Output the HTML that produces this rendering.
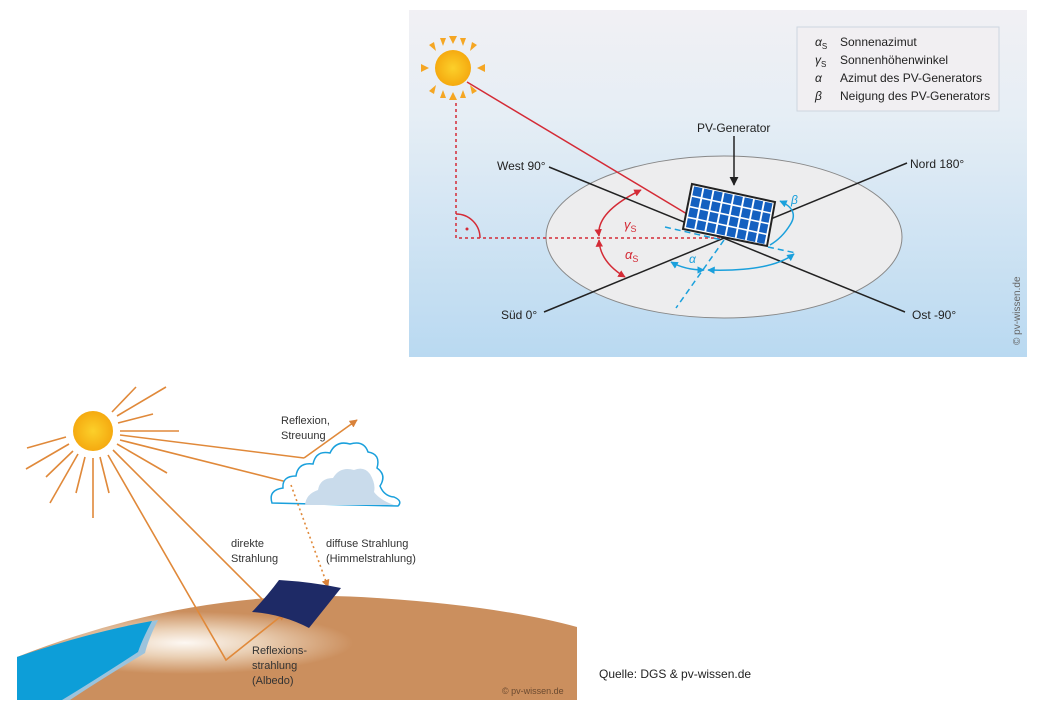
<!DOCTYPE html>
<html><head><meta charset="utf-8"><style>
html,body{margin:0;padding:0;background:#fff;width:1040px;height:720px;overflow:hidden}
svg{display:block;font-family:"Liberation Sans",sans-serif}
</style></head><body>
<svg width="1040" height="720" viewBox="0 0 1040 720" xmlns="http://www.w3.org/2000/svg">
<defs>
<linearGradient id="sky" x1="0" y1="0" x2="0" y2="1">
<stop offset="0" stop-color="#f1f0f4"/><stop offset="0.3" stop-color="#e6eef5"/><stop offset="1" stop-color="#b9d9f1"/>
</linearGradient>
<radialGradient id="sun" cx="0.5" cy="0.5" r="0.5"><stop offset="0" stop-color="#fcd02a"/><stop offset="1" stop-color="#f5aa10"/></radialGradient>
<radialGradient id="gnd" cx="0.3" cy="0.45" r="0.3"><stop offset="0" stop-color="#fdf8f3"/><stop offset="0.45" stop-color="#ead0b5"/><stop offset="1" stop-color="#cb8f5e"/></radialGradient>
<marker id="ar" viewBox="0 0 10 10" refX="9" refY="5" markerWidth="5" markerHeight="5" orient="auto"><path d="M0,0L10,5L0,10z" fill="#d9823a"/></marker>
<marker id="rr" viewBox="0 0 10 10" refX="9" refY="5" markerWidth="5" markerHeight="5" orient="auto-start-reverse"><path d="M0,0L10,5L0,10z" fill="#d42b36"/></marker>
<marker id="br" viewBox="0 0 10 10" refX="9" refY="5" markerWidth="5" markerHeight="5" orient="auto-start-reverse"><path d="M0,0L10,5L0,10z" fill="#1aa0dc"/></marker>
<marker id="kr" viewBox="0 0 10 10" refX="9" refY="5" markerWidth="6" markerHeight="6" orient="auto"><path d="M0,0L10,5L0,10z" fill="#222"/></marker>
</defs>

<!-- TOP PANEL -->
<rect x="409" y="10" width="618" height="347" fill="url(#sky)"/>
<ellipse cx="724" cy="237" rx="178" ry="81" fill="#ededee" stroke="#888" stroke-width="1"/>
<g fill="#f5a623">
<polygon points="453,44 449,36 457,36"/><polygon points="453,92 449,100 457,100"/>
<polygon points="429,68 421,64 421,72"/><polygon points="477,68 485,64 485,72"/>
<polygon points="436,51 429,45 434,42" /><polygon points="470,51 477,45 472,42"/>
<polygon points="436,85 429,91 434,94"/><polygon points="470,85 477,91 472,94"/>
<polygon points="443,46 440,38 446,38"/><polygon points="463,46 466,38 460,38"/>
<polygon points="443,90 440,98 446,98"/><polygon points="463,90 466,98 460,98"/>
</g>
<circle cx="453" cy="68" r="18" fill="url(#sun)"/>
<line x1="467" y1="82" x2="687" y2="214" stroke="#d42b36" stroke-width="1.5"/>
<path d="M456,103 V238 H722" fill="none" stroke="#d42b36" stroke-width="1.5" stroke-dasharray="3,3"/>
<path d="M456,214 A24,24 0 0 1 480,238" fill="none" stroke="#d42b36" stroke-width="1.5"/>
<circle cx="467" cy="229" r="1.5" fill="#d42b36"/>
<path d="M641,190 Q596,212 599,236" fill="none" stroke="#d42b36" stroke-width="1.5" marker-start="url(#rr)" marker-end="url(#rr)"/>
<path d="M599,240 Q600,262 625,277" fill="none" stroke="#d42b36" stroke-width="1.5" marker-start="url(#rr)" marker-end="url(#rr)"/>
<text x="624" y="229" font-size="13" fill="#d42b36" font-style="italic">γ<tspan font-size="9" dy="3" font-style="normal">S</tspan></text>
<text x="625" y="259" font-size="13" fill="#d42b36" font-style="italic">α<tspan font-size="9" dy="3" font-style="normal">S</tspan></text>
<line x1="549" y1="167" x2="905" y2="312" stroke="#222" stroke-width="1.5"/>
<line x1="907" y1="163" x2="544" y2="312" stroke="#222" stroke-width="1.5"/>
<g stroke="#1aa0dc" stroke-width="1.5" fill="none">
<line x1="665" y1="227" x2="722" y2="240" stroke-dasharray="6,4"/>
<line x1="724" y1="240" x2="676" y2="308" stroke-dasharray="6,4"/>
<line x1="768" y1="247" x2="796" y2="253" stroke-dasharray="6,4"/>
<path d="M671,262 Q685,270 704,270" marker-start="url(#br)" marker-end="url(#br)"/>
<path d="M708,270 Q770,272 794,254" marker-start="url(#br)" marker-end="url(#br)"/>
<path d="M780,201 Q800,210 790,225 Q782,238 770,245" marker-start="url(#br)"/>
</g>
<text x="689" y="263" font-size="12" fill="#1aa0dc" font-style="italic">α</text>
<text x="791" y="204" font-size="12" fill="#1aa0dc" font-style="italic">β</text>
<polygon points="692,184 775,202 767,246 683,229" fill="#fff" stroke="#222" stroke-width="2"/>
<g transform="matrix(83,18,-9,45,692,184)" fill="#1460c0">
<g id="row">
<rect x="0.03" y="0.04" width="0.1" height="0.2"/><rect x="0.152" y="0.04" width="0.1" height="0.2"/><rect x="0.274" y="0.04" width="0.1" height="0.2"/><rect x="0.396" y="0.04" width="0.1" height="0.2"/><rect x="0.518" y="0.04" width="0.1" height="0.2"/><rect x="0.64" y="0.04" width="0.1" height="0.2"/><rect x="0.762" y="0.04" width="0.1" height="0.2"/><rect x="0.884" y="0.04" width="0.09" height="0.2"/>
</g>
<use href="#row" y="0.235"/><use href="#row" y="0.47"/><use href="#row" y="0.705"/>
</g>
<line x1="734" y1="136" x2="734" y2="185" stroke="#222" stroke-width="1.5" marker-end="url(#kr)"/>
<g font-size="12" fill="#222">
<text x="697" y="132">PV-Generator</text>
<text x="497" y="170">West 90°</text>
<text x="910" y="168">Nord 180°</text>
<text x="501" y="319">Süd 0°</text>
<text x="912" y="319">Ost -90°</text>
</g>
<rect x="797" y="27" width="202" height="84" fill="#f1eff2" stroke="#cdd6e0"/>
<g font-size="12" fill="#222">
<text x="815" y="46" font-style="italic">α<tspan font-size="8" dy="3" font-style="normal">S</tspan></text><text x="840" y="46">Sonnenazimut</text>
<text x="815" y="64" font-style="italic">γ<tspan font-size="8" dy="3" font-style="normal">S</tspan></text><text x="840" y="64">Sonnenhöhenwinkel</text>
<text x="815" y="82" font-style="italic">α</text><text x="840" y="82">Azimut des PV-Generators</text>
<text x="815" y="100" font-style="italic">β</text><text x="840" y="100">Neigung des PV-Generators</text>
</g>
<text transform="translate(1020,345) rotate(-90)" font-size="10" fill="#666">© pv-wissen.de</text>

<!-- BOTTOM PANEL -->
<path d="M17,657 Q200,585 377,598 Q500,606 577,627 V700 H17 Z" fill="url(#gnd)"/>
<path d="M17,657 Q90,632 158,620 Q148,640 145,653 Q100,680 70,700 H17 Z" fill="#9cc3dc"/>
<path d="M17,657 Q90,632 152,621 Q142,640 138,652 Q95,680 62,700 H17 Z" fill="#0d9ed8"/>
<g stroke="#e0893a" stroke-width="1.6" fill="none">
<line x1="112" y1="412" x2="136" y2="387"/><line x1="117" y1="416" x2="166" y2="387"/>
<line x1="118" y1="423" x2="153" y2="414"/><line x1="120" y1="431" x2="179" y2="431"/>
<line x1="117" y1="444" x2="167" y2="473"/><line x1="100" y1="457" x2="109" y2="493"/>
<line x1="93" y1="458" x2="93" y2="518"/><line x1="85" y1="457" x2="76" y2="493"/>
<line x1="78" y1="454" x2="50" y2="503"/><line x1="73" y1="451" x2="46" y2="477"/>
<line x1="69" y1="444" x2="26" y2="469"/><line x1="66" y1="437" x2="27" y2="448"/>
<line x1="120" y1="435" x2="304" y2="458"/><line x1="120" y1="440" x2="291" y2="483"/>
<line x1="113" y1="450" x2="268" y2="605" marker-end="url(#ar)"/>
<polyline points="108,455 226,660 285,613" marker-end="url(#ar)"/>
<line x1="304" y1="458" x2="357" y2="420" marker-end="url(#ar)"/>
</g>
<circle cx="93" cy="431" r="20" fill="url(#sun)"/>
<!-- cloud -->
<path d="M272,503 Q268,490 283,488 Q282,476 296,476 Q298,462 313,464 Q316,450 330,453 Q336,440 350,444 Q364,440 368,452 Q381,454 377,468 Q387,475 380,486 Q384,496 394,497 Q403,501 398,506 Z" fill="#fff" stroke="#1aa0dc" stroke-width="1.5"/>
<path d="M305,505 Q306,494 318,490 Q320,478 333,478 Q340,466 354,470 Q364,466 370,474 Q376,484 374,492 Q380,500 394,505 Z" fill="#c9dbeb"/>
<line x1="291" y1="485" x2="328" y2="587" stroke="#e0893a" stroke-width="1.6" stroke-dasharray="2,3" marker-end="url(#ar)"/>
<path d="M252,612 Q268,595 279,580 Q312,582 341,588 Q325,608 309,628 Q282,614 252,612 Z" fill="#1e2a66"/>
<g font-size="11" fill="#333">
<text x="281" y="424">Reflexion,</text><text x="281" y="439">Streuung</text>
<text x="231" y="547">direkte</text><text x="231" y="562">Strahlung</text>
<text x="326" y="547">diffuse Strahlung</text><text x="326" y="562">(Himmelstrahlung)</text>
<text x="252" y="654">Reflexions-</text><text x="252" y="669">strahlung</text><text x="252" y="684">(Albedo)</text>
</g>
<text x="502" y="694" font-size="9" fill="#6b4a30">© pv-wissen.de</text>
<text x="599" y="678" font-size="12" fill="#222">Quelle: DGS &amp; pv-wissen.de</text>
</svg>
</body></html>
